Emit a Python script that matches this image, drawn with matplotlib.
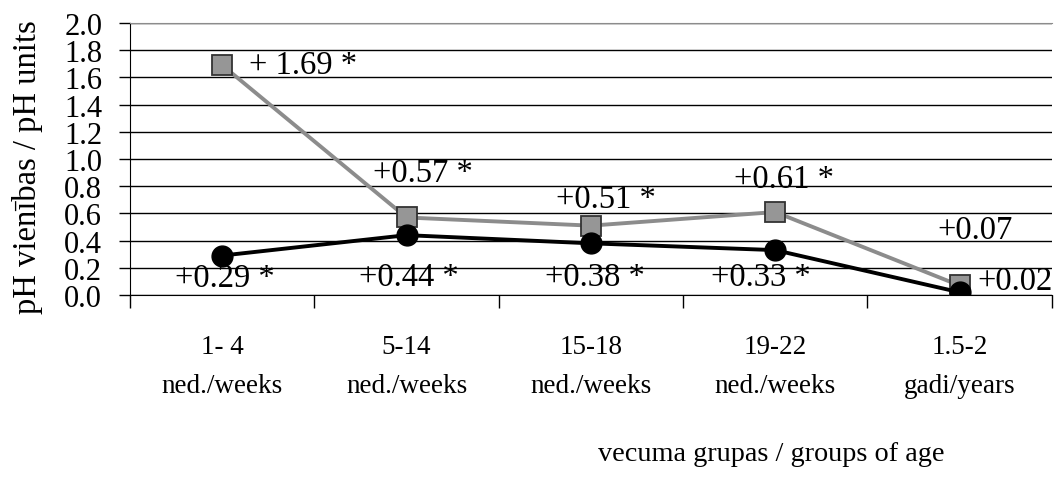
import matplotlib
matplotlib.use("Agg")
import matplotlib.pyplot as plt

plt.rcParams["font.family"] = ["Liberation Serif", "DejaVu Serif"]

# age groups and pH differences
groups = ["1- 4\nned./weeks", "5-14\nned./weeks", "15-18\nned./weeks",
          "19-22\nned./weeks", "1.5-2\ngadi/years"]
grey_vals = [1.69, 0.57, 0.51, 0.61, 0.07]
black_vals = [0.29, 0.44, 0.38, 0.33, 0.02]
grey_labels = ["+ 1.69 *", "+0.57 *", "+0.51 *", "+0.61 *", "+0.07"]
black_labels = ["+0.29 *", "+0.44 *", "+0.38 *", "+0.33 *", "+0.02"]
y_ticks = [0.0, 0.2, 0.4, 0.6, 0.8, 1.0, 1.2, 1.4, 1.6, 1.8, 2.0]

fig = plt.figure(figsize=(10.57, 4.85), dpi=100)
ax = fig.add_axes([0.123, 0.3897, 0.872, 0.5608])

x = list(range(len(groups)))
ax.plot(x, grey_vals, color="#8c8c8c", lw=2.8, marker="s", ms=15,
        mfc="#969696", mec="#333333", mew=1.3, zorder=3)
ax.plot(x, black_vals, color="black", lw=2.8, marker="o", ms=15,
        mfc="black", mec="black", zorder=4)

# label offsets in points (dx, dy, ha)
grey_off = [(19, 0, "left"), (12, 32, "center"), (11, 19, "center"),
            (6, 24, "center"), (11, 40, "center")]
black_off = [(2, -16, "center"), (2, -30, "center"), (3, -24, "center"),
             (-10, -19, "center"), (13, 8, "left")]
for i in x:
    dx, dy, ha = grey_off[i]
    ax.annotate(grey_labels[i], (i, grey_vals[i]), xytext=(dx, dy),
                textcoords="offset points", ha=ha, va="center",
                fontsize=23.5, zorder=5)
    dx, dy, ha = black_off[i]
    ax.annotate(black_labels[i], (i, black_vals[i]), xytext=(dx, dy),
                textcoords="offset points", ha=ha, va="center",
                fontsize=23.5, zorder=5)

ax.set_xlim(-0.5, len(groups) - 0.5)
ax.set_ylim(0, 2.0)
ax.set_yticks(y_ticks)
ax.set_yticklabels(["%.1f" % v for v in y_ticks], fontsize=22)
ax.set_xticks(x)
ax.set_xticklabels(groups, fontsize=19.5, linespacing=1.75)
ax.tick_params(axis="x", length=0, pad=28)
ax.set_xticks([i - 0.5 for i in range(len(groups) + 1)], minor=True)
ax.tick_params(axis="x", which="minor", length=9, width=1, direction="out")
ax.tick_params(axis="y", length=8, width=1, direction="out", pad=12)

ax.yaxis.grid(True, color="black", lw=1)
ax.set_axisbelow(True)
ax.spines["right"].set_visible(False)
ax.spines["top"].set_color("#8c8c8c")
ax.spines["left"].set_color("black")
ax.spines["bottom"].set_color("black")

ax.set_ylabel("pH vienības / pH units", fontsize=23.5)
ax.yaxis.set_label_coords(-0.094, 0.475)
fig.text(0.73, 0.062, "vecuma grupas / groups of age", fontsize=20.3,
         ha="center", va="center")

fig.savefig("out.png", dpi=100)
